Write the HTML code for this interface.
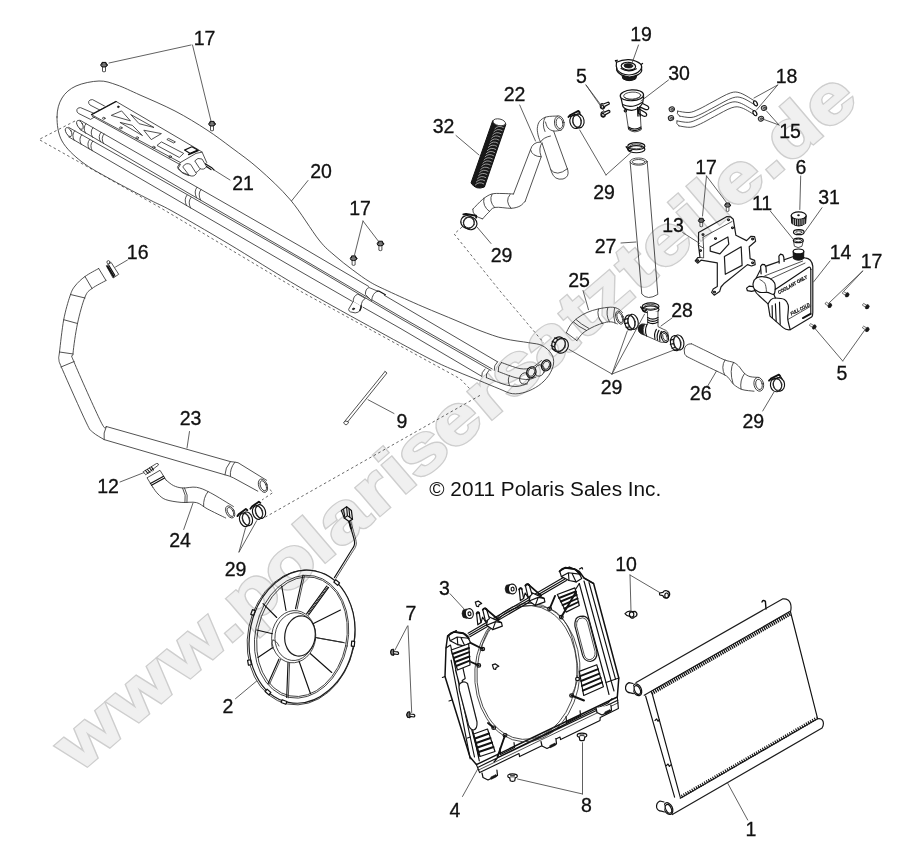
<!DOCTYPE html>
<html><head><meta charset="utf-8"><title>Cooling system</title><style>
html,body{margin:0;padding:0;background:#fff;}
body{width:911px;height:845px;overflow:hidden;font-family:"Liberation Sans",sans-serif;}
svg{display:block}
path,ellipse{fill:none;stroke:#2a2a2a;stroke-width:0.9;stroke-linecap:round;stroke-linejoin:round}
.t{stroke:#333;stroke-width:0.85}
.f{fill:#fff;stroke:#333;stroke-width:0.85}
.f2{fill:#fff;stroke:#1c1c1c;stroke-width:1.2}
.nf{fill:#fff;stroke:none}
.f2n{fill:none;stroke:#111;stroke-width:1.5}
.fd{fill:#777;stroke:#111;stroke-width:1}
.fg{fill:#bdbdbd;stroke:#222;stroke-width:1}
.fk{fill:#fff;stroke:#111;stroke-width:1.2}
.k{stroke:#111;stroke-width:1.15}
.k2{stroke:#111;stroke-width:1.4}
.k3{stroke:#111;stroke-width:1.9}
.blk{fill:#1a1a1a;stroke:#111;stroke-width:0.6}
.fblk{fill:#181818;stroke:#111;stroke-width:1}
.w2{stroke:#ddd;stroke-width:0.8}
.w{stroke:#e0e0e0;stroke-width:0.65}
.d{stroke:#444;stroke-width:0.8;stroke-dasharray:2.6 2.6;stroke-linecap:butt}
.hat{stroke:#111;stroke-width:2.2;stroke-dasharray:0.8 0.9;stroke-linecap:butt}
.fin{stroke:#111;stroke-width:4.2;stroke-dasharray:1.3 0.9;stroke-linecap:butt}
.fin2{stroke:#111;stroke-width:3.2;stroke-dasharray:1.1 1.3;stroke-linecap:butt}
.ld path,.ld{stroke:#444;stroke-width:0.85}
.lb text{font-family:"Liberation Sans",sans-serif;font-size:19.5px;fill:#111;text-anchor:middle;stroke:#111;stroke-width:0.3}
.cp{font-family:"Liberation Sans",sans-serif;font-size:20.5px;fill:#111}
.tt{font-family:"Liberation Sans",sans-serif;font-size:4.8px;stroke:#111;stroke-width:0.25;font-weight:bold;font-style:italic;fill:#111}
.wmg{mix-blend-mode:multiply}
.wm1,.wm2{font-family:"Liberation Sans",sans-serif;font-weight:bold;font-size:68px;vector-effect:non-scaling-stroke}
.wm1{fill:#cecece;stroke:#cecece;stroke-width:4.0;stroke-linejoin:miter}
.wm2{fill:#f0f0f0;stroke:#f0f0f0;stroke-width:1.2;stroke-linejoin:miter}
</style></head><body>
<svg width="911" height="845" viewBox="0 0 911 845">
<rect x="-5" y="-5" width="921" height="855" fill="#fff" stroke="none"/>
<g id="left"><path class="t" d="M57.0 117.0C57.0 109.8 58.8 103.2 62.0 98.0C65.2 92.8 69.8 88.8 76.0 86.0C82.2 83.2 92.2 81.2 99.0 81.0C105.8 80.8 110.2 82.7 117.0 85.0C123.8 87.3 130.3 90.7 140.0 95.0C149.7 99.3 163.8 105.2 175.0 111.0C186.2 116.8 197.5 123.8 207.0 130.0C216.5 136.2 223.3 141.5 232.0 148.0C240.7 154.5 249.2 160.3 259.0 169.0C268.8 177.7 280.5 188.2 290.5 200.0C300.5 211.8 311.6 230.7 319.0 240.0C326.4 249.3 329.4 250.8 335.0 255.8C340.6 260.8 346.8 265.5 352.7 269.9C358.6 274.3 364.3 278.6 370.2 282.1C376.1 285.6 379.0 286.8 387.8 290.9C396.6 295.0 411.5 301.8 422.9 306.7C434.3 311.6 446.3 316.4 456.0 320.5C465.7 324.6 473.0 328.0 481.0 331.0C489.0 334.0 496.0 336.7 504.0 338.6C512.0 340.6 522.5 341.6 528.8 342.7C535.1 343.8 538.2 343.6 542.0 345.5C545.8 347.4 549.6 350.9 551.5 354.0C553.4 357.1 554.0 360.4 553.5 364.0C553.0 367.6 551.1 372.0 548.6 375.6C546.1 379.2 542.6 382.8 538.7 385.5C534.9 388.2 529.9 390.7 525.5 392.1C521.1 393.5 516.7 394.2 512.3 393.7C507.9 393.1 504.7 391.0 499.2 388.8C493.7 386.6 486.6 383.6 479.4 380.6C472.2 377.6 464.2 374.6 456.0 371.0C447.8 367.4 443.0 365.7 430.0 359.0C417.0 352.3 399.7 342.9 378.0 331.0C356.3 319.1 325.0 302.0 300.0 287.4C275.0 272.8 249.3 256.2 228.0 243.5C206.7 230.8 185.0 218.2 172.0 211.0C159.0 203.8 160.0 205.2 150.0 200.0C140.0 194.8 123.3 186.3 112.0 180.0C100.7 173.7 90.3 168.5 82.0 162.0C73.7 155.5 66.2 148.5 62.0 141.0C57.8 133.5 57.0 124.2 57.0 117.0Z" />
<path class="d" d="M75.0 121.0L39.0 139.5L160.0 207.5L300.0 291.0L460.0 378.7L470.0 389.0" />
<path class="d" d="M480.0 395.4L265.5 517.0" />
<path class="d" d="M462.0 227.0L454.2 234.0L499.2 290.0L543.6 342.7" />
<path class="d" d="M266.0 486.0L273.0 492.5L262.0 500.0" />
<path class="t" d="M80.0 120.2L190.0 183.2L300.0 246.1L368.6 286.4" />
<path class="t" d="M384.3 295.3 L497.5 361.8" />
<path class="t" d="M80 129.6 L190 194 L300 257.6 L400 316.4 L492.2 369" />
<path class="t" d="M68.7 127.4 L190 196.2 L300 259.3 L400 318.3 L490.9 370.4" />
<path class="t" d="M68.7 136.9 L190 207.5 L300 271.3 L352 301.2" />
<path class="t" d="M363 307.2 L400 328.2 L481.7 376.3" />
<ellipse class="f" cx="80" cy="124.9" rx="2.6" ry="4.9" transform="rotate(-28 80 124.9)" />
<ellipse class="f" cx="68.7" cy="132.1" rx="2.6" ry="4.9" transform="rotate(-28 68.7 132.1)" />
<path class="t" d="M86 123.638 q-3.5 4 -0.5 9.6" />
<path class="t" d="M74.7 130.838 q-3.5 4 -0.5 9.6" />
<path class="t" d="M93 127.649 q-3.5 4 -0.5 9.6" />
<path class="t" d="M81.7 134.84900000000002 q-3.5 4 -0.5 9.6" />
<path class="t" d="M101 132.233 q-3.5 4 -0.5 9.6" />
<path class="t" d="M89.7 139.433 q-3.5 4 -0.5 9.6" />
<path class="t" d="M104 133.952 q-3.5 4 -0.5 9.6" />
<path class="t" d="M92.7 141.15200000000002 q-3.5 4 -0.5 9.6" />
<path class="t" d="M197 187.24099999999999 q-3.5 4 -0.5 10.5" />
<path class="t" d="M187 195.1859 q-3.5 4 -0.5 10.5" />
<path class="t" d="M201 189.53300000000002 q-3.5 4 -0.5 10.5" />
<path class="t" d="M191 197.4779 q-3.5 4 -0.5 10.5" />
<path class="t" d="M497.5 361.8 Q493.5 365.5 494.2 370.4 M501.4 362.5 Q497.4 366.5 498.2 371.5" />
<path class="t" d="M485 369 Q481 372.5 481.7 376.3 M489 370.3 Q485.2 374 486.3 377.6" />
<path class="t" d="M501.4 362.5C504.5 363.5 514.9 367.8 520.0 368.6C525.1 369.4 528.4 368.9 532.0 367.5C535.6 366.1 539.9 361.7 541.5 360.5" />
<path class="t" d="M498.2 371.5C501.0 372.5 510.0 376.2 515.0 377.5C520.0 378.8 524.5 379.6 528.0 379.5C531.5 379.4 534.7 377.4 536.0 377.0" />
<path class="t" d="M486.3 377.6C489.1 378.7 498.1 382.5 503.0 384.0C507.9 385.5 511.9 386.5 516.0 386.5C520.1 386.5 525.6 384.2 527.5 383.8" />
<path class="t" d="M509.5 375.5 Q507 379.5 509.5 385.5" />
<ellipse class="fk" cx="546.1" cy="365.4" rx="4.6" ry="5.6" transform="rotate(20 546.1 365.4)" />
<ellipse class="f" cx="546.1" cy="365.4" rx="3.2" ry="4.2" transform="rotate(20 546.1 365.4)" />
<ellipse class="t" cx="539.5" cy="370.5" rx="4.8" ry="5.8" transform="rotate(20 539.5 370.5)" />
<ellipse class="fk" cx="531.3" cy="372.3" rx="4.6" ry="5.6" transform="rotate(20 531.3 372.3)" />
<ellipse class="f" cx="531.3" cy="372.3" rx="3.2" ry="4.2" transform="rotate(20 531.3 372.3)" />
<ellipse class="t" cx="524.5" cy="378.5" rx="4.8" ry="5.8" transform="rotate(20 524.5 378.5)" />
<path class="f" d="M365.4 294.1 Q365.2 289 369 287.5 L377.5 291.1 Q372.4 293.2 371.6 300.4 Z" />
<path class="k" d="M377.5 291.1 L378.8 291 L385.4 294.8" />
<path class="f" d="M353.2 301.4 Q353 296 357.8 294.1 L365.4 298.4 Q361.6 300.2 361.1 306 Z" />
<path class="f" d="M353.2 301.4 L348.6 309.3 Q349 311.6 350.5 311.9 L355.2 312.9 Q358.6 312.6 359.8 310.6 L361.1 306" />
<path class="k2" d="M359.8 310.6 Q361.6 308.4 361.1 306" />
<ellipse class="blk" cx="353.5" cy="308.9" rx="1.2" ry="0.8" transform="rotate(-15 353.5 308.9)" />
<path class="f" d="M104.5 106 L92.5 99.6 Q89.5 99.4 88.6 101.6 Q88.4 103.8 90 105 L100.5 110.4" />
<path class="f" d="M95 113.8 L80.5 107.6 Q77.6 107.4 76.8 109.8 Q76.6 112.2 78.4 113.4 L90.5 119.4 L98 115" />
<path class="f" d="M116.2 101.5L197.7 149.3L202.1 152.1L206.7 162.5L197.7 171.5L190.3 175.6L182.0 172.3L177.4 167.1L180.4 162.5L91.5 114.7Z" />
<path class="k" d="M91.5 114.7L116.2 101.5" />
<path class="t" d="M92.3 116.3L179.7 164.4" />
<path class="t" d="M180.4 162.5L196.0 153.4L202.1 152.1" />
<path class="t" d="M111.6 115.2L121.6 110.9L130.2 120.6Z" />
<path class="t" d="M131.0 114.7L154.0 127.5L139.5 123.8Z" />
<path class="t" d="M120.3 122.6L142.5 135.6L132.6 125.6Z" />
<path class="t" d="M144.2 130.3L161.4 133.6L151.6 139.4Z" />
<path class="t" d="M168.9 138.6L175.4 141.9L173.8 143.0L167.2 139.7Z" />
<path class="t" d="M157.3 145.2L161.4 141.9L183.7 153.4L179.6 157.2Z" />
<path class="k" d="M184.5 150.1L191.9 146.8L197.7 150.1L190.3 153.4Z" />
<path class="k2" d="M188.6 154.5L198.2 150.6" />
<ellipse class="t" cx="103.8" cy="118.3" rx="1.3" ry="1.0" />
<ellipse class="t" cx="120.8" cy="127.9" rx="1.3" ry="1.0" />
<ellipse class="t" cx="137.2" cy="137.8" rx="1.3" ry="1.0" />
<ellipse class="t" cx="153.7" cy="147.3" rx="1.3" ry="1.0" />
<ellipse class="t" cx="170.2" cy="156.7" rx="1.3" ry="1.0" />
<ellipse class="blk" cx="118.3" cy="106.8" rx="0.9" ry="0.9" />
<path class="t" d="M180.4 164.4L177.9 168.7L182.9 173.2L188.6 175.6" />
<path class="f" d="M183 166.6 Q185.6 162 190.6 164.4 L196.4 173.6 Q193.6 177.6 189.4 175.4 Z" />
<path class="f" d="M195 160.6 Q197.6 157 202 159 L206.6 166.6 Q204 170.6 200 168.6 Z" />
<path class="k" d="M205.6 164 L211.4 167.4 L214 170 M206.4 166.6 L211 169.6" />
<path class="ld" d="M214 170 L230 180" />
<g transform="translate(104 65) rotate(0) scale(1.0)"><path d="M-1.5 1.2 L-1.5 6.4 Q0 7.4 1.5 6.4 L1.5 1.2" class="f"/><ellipse cx="0" cy="0" rx="3.3" ry="2.1" class="fd"/><path d="M-2 -0.8 L-2 -2.6 L2 -2.6 L2 -0.8" class="fd"/></g>
<g transform="translate(212 124) rotate(0) scale(1.0)"><path d="M-1.5 1.2 L-1.5 6.4 Q0 7.4 1.5 6.4 L1.5 1.2" class="f"/><ellipse cx="0" cy="0" rx="3.3" ry="2.1" class="fd"/><path d="M-2 -0.8 L-2 -2.6 L2 -2.6 L2 -0.8" class="fd"/></g>
<g transform="translate(353.6 258.5) rotate(0) scale(1.0)"><path d="M-1.5 1.2 L-1.5 6.4 Q0 7.4 1.5 6.4 L1.5 1.2" class="f"/><ellipse cx="0" cy="0" rx="3.3" ry="2.1" class="fd"/><path d="M-2 -0.8 L-2 -2.6 L2 -2.6 L2 -0.8" class="fd"/></g>
<g transform="translate(380.4 243.8) rotate(0) scale(1.0)"><path d="M-1.5 1.2 L-1.5 6.4 Q0 7.4 1.5 6.4 L1.5 1.2" class="f"/><ellipse cx="0" cy="0" rx="3.3" ry="2.1" class="fd"/><path d="M-2 -0.8 L-2 -2.6 L2 -2.6 L2 -0.8" class="fd"/></g>
<path class="t" d="M98.7 268.5C96.4 269.8 89.0 273.6 85.0 276.5C81.0 279.4 77.5 282.8 75.0 286.0C72.5 289.2 71.9 290.4 70.0 296.0C68.1 301.6 65.5 310.4 63.7 319.7C62.0 329.0 60.3 345.4 59.5 352.0C58.7 358.6 58.4 356.6 58.9 359.5C59.4 362.4 58.0 359.3 62.5 369.7C67.0 380.1 81.0 411.6 86.0 422.0C91.0 432.4 89.5 429.1 92.5 432.0C95.5 434.9 102.2 438.3 104.1 439.6L224.9 474.8 Q229 475.6 233.7 478 L257.8 491.2" />
<path class="t" d="M106.0 280.5C103.7 281.8 95.5 285.8 92.0 288.5C88.5 291.2 87.4 291.2 85.0 297.0C82.6 302.8 79.5 314.1 77.5 323.5C75.5 332.9 73.6 347.1 73.0 353.5C72.4 359.9 69.3 350.6 74.0 362.0C78.7 373.4 95.6 411.2 101.0 422.0C106.4 432.8 105.4 425.8 106.3 426.5L230.4 461.6 Q234.5 462 238 462.7 L266.6 480.3" />
<path class="t" d="M98.7 268.5 L106 280.5" />
<path class="t" d="M85 276.5 L92 288.5" />
<path class="t" d="M70.5 294.5 L85 298" />
<path class="t" d="M63.7 319.7 L77.5 323.5" />
<path class="t" d="M59.5 352 L73.2 354" />
<path class="t" d="M61 367 L74.2 361.5" />
<path class="t" d="M106.3 426.5 Q103 433 104.1 439.6" />
<path class="t" d="M230.4 461.6 Q225 468 224.9 474.8" />
<path class="t" d="M234.8 462.2 Q229.6 469 230.4 476" />
<ellipse class="f" cx="263" cy="485.7" rx="4.2" ry="7.0" transform="rotate(-22 263 485.7)" />
<ellipse class="t" cx="263.3" cy="485.8" rx="2.8" ry="5.3" transform="rotate(-22 263.3 485.8)" />
<path class="f" d="M106.6 265.5 L111.2 262.5 L118.7 274.3 L113.4 277.8 Z" />
<path class="k3" d="M107.6 266.4 L113.6 276.4" />
<path class="k" d="M108.8 265.4 L114.8 275.4" />
<ellipse class="t" cx="108.4" cy="262.2" rx="1.5" ry="1.6" />
<path class="f" d="M143.5 471.5 L156.5 463.5 Q158.5 463 158.5 465 L146 474.5 Z" />
<path class="k" d="M145.5 470.5 L148 473.5 M147.5 469.5 L150 472.5 M149.5 468 L152 471 M151.5 467 L153.5 470" />
<path class="t" d="M153.0 487.5C153.8 488.6 155.9 492.0 158.0 494.0C160.1 496.0 161.8 498.2 165.7 499.6C169.5 501.0 176.0 501.9 181.1 502.4C186.2 502.9 192.2 501.5 196.5 502.6C200.8 503.7 202.3 506.2 207.2 508.8C212.1 511.4 222.6 516.5 225.7 518.0" />
<path class="t" d="M166.0 480.0C167.2 480.9 170.7 484.3 173.5 485.6C176.3 486.9 178.8 487.7 182.6 488.0C186.4 488.3 191.9 486.5 196.5 487.3C201.1 488.1 204.2 489.5 210.3 492.7C216.5 495.9 229.6 504.2 233.4 506.5" />
<path class="f" d="M153.0 487.5L147.0 477.8L160.0 470.3L166.0 480.0" />
<path class="k" d="M151.5 485.3 L164.6 478 M150.4 483.6 L163.6 476.3" />
<path class="t" d="M182.6 488 Q186.6 495 185 502.6" />
<path class="t" d="M184.6 488 Q188.6 495 187 502.6" />
<path class="t" d="M208 491.6 Q203 498 203.6 506.6" />
<ellipse class="f" cx="230.2" cy="511.9" rx="4.0" ry="6.5" transform="rotate(-28 230.2 511.9)" />
<ellipse class="t" cx="230.5" cy="512" rx="2.6" ry="4.9" transform="rotate(-28 230.5 512)" />
<g transform="rotate(-18 244.5 519.8)"><ellipse cx="244.5" cy="519.8" rx="4.8" ry="7" class="k"/><ellipse cx="247.7" cy="519.8" rx="4.8" ry="7" class="k"/><ellipse cx="246.1" cy="519.8" rx="3.5999999999999996" ry="5.8" class="t"/><path d="M241.14 512.5 l8.0 -2.6 l1 1.6 M241.14 512.5 l-2.2 1.6" class="k3"/></g>
<g transform="rotate(-18 257.5 512.5)"><ellipse cx="257.5" cy="512.5" rx="4.8" ry="7" class="k"/><ellipse cx="260.7" cy="512.5" rx="4.8" ry="7" class="k"/><ellipse cx="259.1" cy="512.5" rx="3.5999999999999996" ry="5.8" class="t"/><path d="M254.14 505.2 l8.0 -2.6 l1 1.6 M254.14 505.2 l-2.2 1.6" class="k3"/></g>
<path class="t" d="M385 371.5 L387 373 L348 421.5 L345 421 L343.5 423 L346 425 L348.5 423 L348 421.5 M385 371.5 L345 421" /></g>
<g id="right"><path class="fblk" d="M492.6 121 L471 183 Q476 190.5 484.4 187 L505.8 124.5 Z" />
<ellipse class="f" cx="499.3" cy="122.3" rx="6.4" ry="3.3" transform="rotate(12 499.3 122.3)" />
<path class="w" d="M494.9 128.7 q3.6 -4 8.4 -1.2" />
<path class="w" d="M493.8 131.8 q3.6 -4 8.4 -1.2" />
<path class="w" d="M492.7 134.9 q3.6 -4 8.4 -1.2" />
<path class="w" d="M491.6 138.1 q3.6 -4 8.4 -1.2" />
<path class="w" d="M490.5 141.2 q3.6 -4 8.4 -1.2" />
<path class="w" d="M489.4 144.3 q3.6 -4 8.4 -1.2" />
<path class="w" d="M488.3 147.4 q3.6 -4 8.4 -1.2" />
<path class="w" d="M487.3 150.6 q3.6 -4 8.4 -1.2" />
<path class="w" d="M486.2 153.7 q3.6 -4 8.4 -1.2" />
<path class="w" d="M485.1 156.8 q3.6 -4 8.4 -1.2" />
<path class="w" d="M484.0 160.0 q3.6 -4 8.4 -1.2" />
<path class="w" d="M482.9 163.1 q3.6 -4 8.4 -1.2" />
<path class="w" d="M481.8 166.2 q3.6 -4 8.4 -1.2" />
<path class="w" d="M480.7 169.4 q3.6 -4 8.4 -1.2" />
<path class="w" d="M479.6 172.5 q3.6 -4 8.4 -1.2" />
<path class="w" d="M478.5 175.6 q3.6 -4 8.4 -1.2" />
<path class="w" d="M477.4 178.8 q3.6 -4 8.4 -1.2" />
<path class="w" d="M476.3 181.9 q3.6 -4 8.4 -1.2" />
<path class="w" d="M475.3 185.0 q3.6 -4 8.4 -1.2" />
<path class="t" d="M558.0 116.0C556.1 116.2 549.6 116.0 546.5 116.9C543.4 117.8 541.1 119.4 539.6 121.3C538.1 123.2 537.5 126.0 537.3 128.4C537.1 130.8 537.8 133.7 538.3 136.0C538.8 138.3 540.1 141.0 540.5 142.0" />
<path class="t" d="M553.6 131 L567.8 170.1 Q569.5 177 563 179 Q554.5 180.5 551.5 172 L542 143" />
<path class="t" d="M550.6 169.5 Q556.5 177.5 567.6 168.6" />
<path class="t" d="M561.0 130.2C559.8 130.3 555.8 131.4 553.6 131.0C551.4 130.6 549.4 129.5 548.0 128.0C546.6 126.5 545.9 123.0 545.5 122.0" />
<path class="t" d="M545.2 117.2 Q541.5 124 545 131.5" />
<path class="t" d="M540.5 142 Q543 137.5 550.5 136" />
<ellipse class="f" cx="559.3" cy="123.1" rx="4.8" ry="7.2" transform="rotate(-8 559.3 123.1)" />
<ellipse class="t" cx="559.5" cy="123.1" rx="3.3" ry="5.5" transform="rotate(-8 559.5 123.1)" />
<path class="t" d="M540.5 142 Q532.5 142 530.5 149.7 L513.5 194" />
<path class="t" d="M542 143 Q538 148 541.2 156.8 L525.2 201.2" />
<path class="t" d="M530.5 149.7 Q532 156.5 541.2 156.8" />
<path class="t" d="M513.5 194.0C511.6 193.9 505.7 193.5 502.0 193.5C498.3 193.5 494.7 193.1 491.5 194.1C488.3 195.1 485.7 196.9 482.6 199.4C479.5 201.9 474.4 207.6 472.8 209.2" />
<path class="t" d="M525.2 201.2C524.3 202.0 522.4 204.8 520.0 206.0C517.6 207.2 515.2 208.1 511.0 208.3C506.8 208.5 498.8 206.7 495.0 207.4C491.2 208.1 490.6 210.6 488.5 212.5C486.4 214.4 483.6 217.8 482.6 218.9" />
<path class="t" d="M472.8 209.2 Q472 216 482.6 218.9" />
<path class="t" d="M510 194.5 Q504.5 201 511 208.3" />
<path class="t" d="M492 194.2 Q488.5 201 494.5 207.4" />
<path class="t" d="M484 198 Q482 206 489.5 211.5" />
<g transform="rotate(-10 575.5 121.5)"><ellipse cx="575.5" cy="121.5" rx="5.6" ry="7" class="k"/><ellipse cx="578.5" cy="121.5" rx="5.6" ry="7" class="k"/><ellipse cx="577.0" cy="121.5" rx="4.3999999999999995" ry="5.8" class="t"/><path d="M571.58 114.2 l8.6 -2.6 l1 1.6 M571.58 114.2 l-2.2 1.6" class="k3"/></g>
<path class="k" d="M570 116.5 L580 113.5 L581 115.5" />
<g transform="rotate(25 467.5 222)"><ellipse cx="467.5" cy="222" rx="6.8" ry="6.4" class="k"/><ellipse cx="470.5" cy="222" rx="6.8" ry="6.4" class="k"/><ellipse cx="469.0" cy="222" rx="5.6" ry="5.2" class="t"/><path d="M462.74 215.29999999999998 l9.8 -2.6 l1 1.6 M462.74 215.29999999999998 l-2.2 1.6" class="k3"/></g>
<g transform="rotate(25 558.5 344.3)"><ellipse cx="558.5" cy="344.3" rx="6.6" ry="7.6" class="k"/><ellipse cx="561.9" cy="344.3" rx="6.6" ry="7.6" class="k"/><ellipse cx="560.2" cy="344.3" rx="5.3999999999999995" ry="6.3999999999999995" class="t"/><path d="M552.3 340.12 l3.4 0 M551.6 344.3 l3.4 0 M552.3 348.48 l3.4 0 M554.54 350.988 l3.4 0" class="k"/></g>
<g transform="rotate(-12 629.8 322.5)"><ellipse cx="629.8" cy="322.5" rx="5" ry="7.6" class="k"/><ellipse cx="633.1999999999999" cy="322.5" rx="5" ry="7.6" class="k"/><ellipse cx="631.5" cy="322.5" rx="3.8" ry="6.3999999999999995" class="t"/><path d="M625.1999999999999 318.32 l3.4 0 M624.5 322.5 l3.4 0 M625.1999999999999 326.68 l3.4 0 M626.8 329.188 l3.4 0" class="k"/></g>
<g transform="rotate(-12 675.5 343.2)"><ellipse cx="675.5" cy="343.2" rx="5" ry="7.6" class="k"/><ellipse cx="678.9" cy="343.2" rx="5" ry="7.6" class="k"/><ellipse cx="677.2" cy="343.2" rx="3.8" ry="6.3999999999999995" class="t"/><path d="M670.9 339.02 l3.4 0 M670.2 343.2 l3.4 0 M670.9 347.38 l3.4 0 M672.5 349.888 l3.4 0" class="k"/></g>
<g transform="rotate(-10 776 385)"><ellipse cx="776" cy="385" rx="5.6" ry="6.8" class="k"/><ellipse cx="779" cy="385" rx="5.6" ry="6.8" class="k"/><ellipse cx="777.5" cy="385" rx="4.3999999999999995" ry="5.6" class="t"/><path d="M772.08 377.9 l8.6 -2.6 l1 1.6 M772.08 377.9 l-2.2 1.6" class="k3"/></g>
<path class="k" d="M771 380 L781 377 L782 379" />
<ellipse class="k" cx="636.3" cy="146.2" rx="8.6" ry="3.6" />
<ellipse class="k" cx="636.3" cy="149.2" rx="8.6" ry="3.6" />
<ellipse class="t" cx="636.3" cy="146.39999999999998" rx="6.6" ry="2.4000000000000004" />
<path class="k2" d="M626.1999999999999 146.7 l3.5 4.5 l2 -1" />
<ellipse class="k" cx="650.6" cy="306.5" rx="8.4" ry="3.6" />
<ellipse class="k" cx="650.6" cy="309.5" rx="8.4" ry="3.6" />
<ellipse class="t" cx="650.6" cy="306.7" rx="6.4" ry="2.4000000000000004" />
<path class="k2" d="M640.7 307.0 l3.5 4.5 l2 -1" />
<path class="fk" d="M600.4 105.60000000000001 q0.6 -2.6 3 -1.6 l4.6 -1.8 q1.6 0.2 1.2 1.8 l-4.4 2.4 q-0.2 2.8 -2.8 2.4 q-2 -0.8 -1.6 -3.2z" />
<ellipse class="k" cx="602.4" cy="106.8" rx="1.3" ry="1.6" transform="rotate(-20 602.4 106.8)" />
<path class="fk" d="M601.0 113.80000000000001 q0.6 -2.6 3 -1.6 l4.6 -1.8 q1.6 0.2 1.2 1.8 l-4.4 2.4 q-0.2 2.8 -2.8 2.4 q-2 -0.8 -1.6 -3.2z" />
<ellipse class="k" cx="603.0" cy="115.0" rx="1.3" ry="1.6" transform="rotate(-20 603.0 115.0)" />
<path class="fblk" d="M621.8 74.6 L622.9 78.8 Q629 82.4 635.6 79 L637.3 74.5" />
<path class="fk" d="M616.5 66 L616.8 70.6 Q619 75.8 629.6 77 Q640.4 75.4 641.7 70.8 L641.5 66" />
<path class="fk" d="M616.5 62.2 Q622 59.4 628.8 59.6 Q637 60.4 641 64.4 Q642.6 67.6 640 70.4 Q636.5 74.6 629 75 Q620.5 74.4 617.4 70 Q615.6 65.5 616.5 62.2 Z" />
<path class="k" d="M616.5 62.2 l-1.2 -1.6 l2.2 -0.4 M641 64.4 l1.6 -1 " />
<ellipse class="fk" cx="628.4" cy="66.2" rx="7.2" ry="3.9" transform="rotate(4 628.4 66.2)" />
<ellipse class="blk" cx="628.4" cy="65.8" rx="4.4" ry="2.2" transform="rotate(4 628.4 65.8)" />
<path class="k" d="M621 68.6 Q628.6 73.2 636.4 68.8" />
<path class="f" d="M625.6 109.5 L628.6 129.6 Q634.6 134 641.2 129.8 L640 110" />
<path class="k" d="M628.4 127 Q634.6 131 641 127 M628.6 128.6 Q634.6 132.6 641.1 128.6" />
<path class="fk" d="M639.2 101.8 L647.6 106 Q649.6 107.6 648.2 109.2 Q646.6 110 645.2 109.4 L638.6 106.4 Z" />
<path class="fk" d="M638.8 108.8 L645.6 112.8 Q647.4 114.4 646.2 116 Q644.6 116.8 643.2 116 L638.4 113.2 Z" />
<path class="fk" d="M620.8 96.9 L622.9 106.4 Q625 110 631.5 110.4 Q638.5 110 642.6 103.2 L643.7 96.9" />
<path class="k" d="M622.6 104.6 Q631.5 109 642 102.4" />
<path class="k2" d="M637.6 107.5 L638 116 M639.8 107 L640.2 116" />
<ellipse class="fk" cx="631.9" cy="95.3" rx="11.7" ry="5.4" transform="rotate(-3 631.9 95.3)" />
<ellipse class="f" cx="632.2" cy="95.6" rx="8.6" ry="3.5" transform="rotate(-3 632.2 95.6)" />
<path class="t" d="M624.5 97.5 Q631.5 102.6 640.2 97" />
<ellipse class="k" cx="625.4" cy="110.8" rx="1.2" ry="1.2" />
<path class="f" d="M630.1 161.6 L641.8 294 Q647.5 300.8 657.8 294.4 L647.2 161.6" />
<ellipse class="f" cx="638.6" cy="161.6" rx="8.5" ry="3.6" />
<ellipse class="t" cx="638.6" cy="161.8" rx="6.4" ry="2.3" />
<path class="t" d="M677.5 111.1C679.4 111.3 685.4 112.8 689.0 112.5C692.6 112.2 695.0 110.9 699.0 109.1C703.0 107.3 707.8 104.4 713.0 101.7C718.2 99.0 725.9 94.3 730.5 92.9C735.1 91.5 736.5 91.8 740.5 93.1C744.5 94.4 752.2 99.6 754.5 100.9" />
<path class="t" d="M679.5 116.1C681.4 116.3 687.4 117.8 691.0 117.5C694.6 117.2 697.0 115.9 701.0 114.1C705.0 112.3 709.8 109.4 715.0 106.7C720.2 104.0 727.9 99.3 732.5 97.9C737.1 96.5 738.5 96.8 742.5 98.1C746.5 99.4 754.2 104.6 756.5 105.9" />
<ellipse class="fk" cx="755.5" cy="103.4" rx="1.6" ry="2.7" transform="rotate(-30 755.5 103.4)" />
<path class="t" d="M677.5 111.1 Q676.0 113.6 679.5 116.1" />
<path class="t" d="M676.9 120.9C678.8 121.1 684.8 122.6 688.4 122.3C692.0 122.0 694.4 120.7 698.4 118.9C702.4 117.1 707.1 114.2 712.4 111.5C717.6 108.8 725.3 104.1 729.9 102.7C734.5 101.3 735.9 101.6 739.9 102.9C743.9 104.2 751.6 109.4 753.9 110.7" />
<path class="t" d="M678.9 125.9C680.8 126.1 686.8 127.6 690.4 127.3C694.0 127.0 696.4 125.7 700.4 123.9C704.4 122.1 709.1 119.2 714.4 116.5C719.6 113.8 727.3 109.1 731.9 107.7C736.5 106.3 737.9 106.6 741.9 107.9C745.9 109.2 753.6 114.4 755.9 115.7" />
<ellipse class="fk" cx="754.9" cy="113.2" rx="1.6" ry="2.7" transform="rotate(-30 754.9 113.2)" />
<path class="t" d="M676.9 120.89999999999999 Q675.4 123.39999999999999 678.9 125.89999999999999" />
<ellipse class="fg" cx="671.8" cy="109.2" rx="2.7" ry="2.4" transform="rotate(-20 671.8 109.2)" />
<ellipse class="t" cx="672.1999999999999" cy="109.4" rx="1.1" ry="0.9" transform="rotate(-20 672.1999999999999 109.4)" />
<ellipse class="fg" cx="671" cy="118.1" rx="2.7" ry="2.4" transform="rotate(-20 671 118.1)" />
<ellipse class="t" cx="671.4" cy="118.3" rx="1.1" ry="0.9" transform="rotate(-20 671.4 118.3)" />
<ellipse class="fg" cx="764" cy="108" rx="2.7" ry="2.4" transform="rotate(-20 764 108)" />
<ellipse class="t" cx="764.4" cy="108.2" rx="1.1" ry="0.9" transform="rotate(-20 764.4 108.2)" />
<ellipse class="fg" cx="761" cy="118.7" rx="2.7" ry="2.4" transform="rotate(-20 761 118.7)" />
<ellipse class="t" cx="761.4" cy="118.9" rx="1.1" ry="0.9" transform="rotate(-20 761.4 118.9)" />
<path class="f2" d="M698.6 232.6L727.0 216.6L730.5 216.8L733.3 219.3L735.9 235.3L746.6 240.6L751.0 236.3L754.6 236.6L755.6 241.2L749.2 246.8L750.1 258.6L754.6 260.4L755.2 264.6L751.5 266.0L747.5 264.6L724.4 283.2L721.0 287.0L719.6 291.6L714.2 295.2L711.6 292.4L713.2 289.0L717.3 286.6L717.3 262.8L701.0 260.2L697.6 263.2L695.2 260.8L697.8 257.6L700.0 257.4L698.4 245.0Z" />
<path class="t" d="M703.0 237.2L732.0 221.5" />
<path class="t" d="M698.4 245.0L703.6 248.2L703.6 258.0L700.0 257.4" />
<path class="t" d="M703.0 237.2L703.6 248.2" />
<path class="f2" d="M710.2 246.8L727.9 237.0L728.8 244.1L719.9 253.9L710.2 251.2Z" />
<path class="f2" d="M724.4 256.6L741.2 246.8L742.1 265.4L725.3 274.3Z" />
<ellipse class="k" cx="703" cy="234.5" rx="1.0" ry="0.8" />
<ellipse class="k" cx="728.5" cy="219.8" rx="1.0" ry="0.8" />
<ellipse class="k" cx="752.6" cy="239" rx="1.0" ry="0.8" />
<ellipse class="k" cx="752.6" cy="262.8" rx="1.0" ry="0.8" />
<ellipse class="k" cx="714.5" cy="292" rx="1.0" ry="0.8" />
<ellipse class="k" cx="697.6" cy="260.6" rx="1.0" ry="0.8" />
<ellipse class="k" cx="715.5" cy="238.5" rx="1.0" ry="0.8" />
<ellipse class="k" cx="732.5" cy="227.8" rx="1.0" ry="0.8" />
<ellipse class="k" cx="700.5" cy="250.5" rx="1.0" ry="0.8" />
<g transform="translate(701.3 220.6) rotate(0) scale(0.9)"><path d="M-1.5 1.2 L-1.5 6.4 Q0 7.4 1.5 6.4 L1.5 1.2" class="f"/><ellipse cx="0" cy="0" rx="3.3" ry="2.1" class="fd"/><path d="M-2 -0.8 L-2 -2.6 L2 -2.6 L2 -0.8" class="fd"/></g>
<g transform="translate(727.6 205.3) rotate(0) scale(0.9)"><path d="M-1.5 1.2 L-1.5 6.4 Q0 7.4 1.5 6.4 L1.5 1.2" class="f"/><ellipse cx="0" cy="0" rx="3.3" ry="2.1" class="fd"/><path d="M-2 -0.8 L-2 -2.6 L2 -2.6 L2 -0.8" class="fd"/></g>
<path class="fblk" d="M791.2 216 L791.8 223.4 Q798.6 228.6 805.6 223.4 L806.2 216" />
<ellipse class="fk" cx="798.7" cy="215.6" rx="7.5" ry="3.7" />
<path class="w2" d="M793.3 219.2 l0.1 5.2" />
<path class="w2" d="M795.4 219.5 l0.1 5.2" />
<path class="w2" d="M797.6 219.8 l0.1 5.2" />
<path class="w2" d="M799.8 219.8 l0.1 5.2" />
<path class="w2" d="M802.0 219.5 l0.1 5.2" />
<path class="w2" d="M804.1 219.2 l0.1 5.2" />
<ellipse class="k" cx="798.5" cy="215.2" rx="0.7" ry="0.4" />
<ellipse class="fk" cx="798.8" cy="232.2" rx="5.3" ry="2.5" />
<ellipse class="f" cx="798.8" cy="232.2" rx="3.1" ry="1.3" />
<path class="f" d="M793.4 240.6 L794.4 246.2 Q798.2 249 802 246.2 L803.2 240.6" />
<ellipse class="fk" cx="798.3" cy="240.4" rx="4.9" ry="2.2" />
<ellipse class="t" cx="798.3" cy="240.5" rx="3.4" ry="1.3" />
<path class="fk" d="M755.1 286.9L749.1 286.1L746.6 288.1L747.4 290.7L751.5 291.4L756.1 290.4" />
<path class="f2" d="M761.4 267.7L793.5 256.5L805.0 257.8Q811.8 258.4 812.8 266.3L812.8 312.5Q812.8 316.1 811.6 317.1L790.2 329.7Q786.1 330.2 783.1 327.6L770.0 316.1L768.0 303.9L759.4 296.0Q755.6 293.0 754.5 289.4Q752.5 286.1 753.2 283.1Q753.8 279.5 756.1 278.2Z" />
<path class="k" d="M756.1 278.2C757.0 277.9 759.1 276.6 761.4 276.6C763.6 276.6 767.4 277.1 769.6 278.2C771.8 279.3 773.7 281.2 774.6 283.1C775.5 285.0 775.1 288.3 775.2 289.4L807.8 267.7Q810.5 266.0 810.8 269.3" />
<path class="t" d="M764.7 275.9L802.6 261.1" />
<path class="t" d="M770.5 278.9L805.0 263.1" />
<path class="k" d="M754.5 289.4C755.4 289.9 757.7 291.9 759.8 292.4C761.9 292.9 764.9 292.1 767.2 292.4C769.5 292.7 772.5 294.8 773.8 294.3C775.1 293.8 775.0 290.2 775.2 289.4" />
<path class="t" d="M759.8 279.5C760.6 280.1 763.6 281.5 764.7 283.1C765.8 284.8 766.0 287.8 766.3 289.4C766.6 290.9 766.3 291.9 766.3 292.4" />
<path class="k" d="M768.0 303.9C768.5 303.2 769.8 300.6 771.0 299.6C772.2 298.6 773.1 298.0 775.4 298.0C777.6 298.0 782.4 298.4 784.5 299.6C786.6 300.8 787.6 302.9 788.2 305.0C788.8 307.1 788.2 310.1 788.1 312.5C788.0 314.9 787.4 316.5 787.8 319.4C788.1 322.3 789.8 328.0 790.2 329.7" />
<path class="k" d="M773.8 294.3L775.4 298.0" />
<path class="k" d="M772.1 305.5L772.4 317.7 M775.4 303.9L776.2 321.3 M779.5 302.2L780.2 324.3" />
<path class="k" d="M810.8 269.3L810.8 314.4" />
<path class="t" d="M788.1 319.4L810.8 306.2" />
<path class="fk" d="M761.1 273.8L760.6 266.3L762.2 264.4L764.7 264.7L766.0 267.2L766.3 272.1" />
<path class="fk" d="M779.2 263.1L778.9 256.1L780.5 254.2L782.8 254.8L783.8 257.3L784.1 261.4" />
<path class="fblk" d="M793.2 251.6 L793.4 258.6 Q798.4 261.8 803.6 258.6 L803.8 251.6" />
<ellipse class="fk" cx="798.5" cy="251.4" rx="5.3" ry="2.4" />
<text class="tt" transform="translate(778.9,294.3) rotate(-29.5)" textLength="33" lengthAdjust="spacingAndGlyphs">COOLANT ONLY</text>
<text class="tt" transform="translate(791.4,315.4) rotate(-27)" textLength="21" lengthAdjust="spacingAndGlyphs">FULL COLD</text>
<path class="k3" d="M802.9 318.1L810.5 313.8" />
<g transform="translate(847 294.8) rotate(120) scale(0.72)"><path d="M-1.5 1.2 L-1.5 6.4 Q0 7.4 1.5 6.4 L1.5 1.2" class="f"/><ellipse cx="0" cy="0" rx="3.3" ry="2.1" class="blk"/><path d="M-2 -0.8 L-2 -2.6 L2 -2.6 L2 -0.8" class="blk"/></g>
<g transform="translate(829.7 305.4) rotate(120) scale(0.72)"><path d="M-1.5 1.2 L-1.5 6.4 Q0 7.4 1.5 6.4 L1.5 1.2" class="f"/><ellipse cx="0" cy="0" rx="3.3" ry="2.1" class="blk"/><path d="M-2 -0.8 L-2 -2.6 L2 -2.6 L2 -0.8" class="blk"/></g>
<g transform="translate(867.1 306.7) rotate(120) scale(0.72)"><path d="M-1.5 1.2 L-1.5 6.4 Q0 7.4 1.5 6.4 L1.5 1.2" class="f"/><ellipse cx="0" cy="0" rx="3.3" ry="2.1" class="blk"/><path d="M-2 -0.8 L-2 -2.6 L2 -2.6 L2 -0.8" class="blk"/></g>
<g transform="translate(814.1 326.9) rotate(120) scale(0.72)"><path d="M-1.5 1.2 L-1.5 6.4 Q0 7.4 1.5 6.4 L1.5 1.2" class="f"/><ellipse cx="0" cy="0" rx="3.3" ry="2.1" class="blk"/><path d="M-2 -0.8 L-2 -2.6 L2 -2.6 L2 -0.8" class="blk"/></g>
<g transform="translate(867.1 329.4) rotate(120) scale(0.72)"><path d="M-1.5 1.2 L-1.5 6.4 Q0 7.4 1.5 6.4 L1.5 1.2" class="f"/><ellipse cx="0" cy="0" rx="3.3" ry="2.1" class="blk"/><path d="M-2 -0.8 L-2 -2.6 L2 -2.6 L2 -0.8" class="blk"/></g>
<path class="t" d="M566.3 332.7C567.0 331.4 568.6 327.5 570.5 325.0C572.4 322.5 575.0 319.9 577.8 317.8C580.5 315.7 583.6 314.0 587.0 312.5C590.4 311.0 594.1 309.9 598.0 309.0C601.9 308.1 607.0 307.3 610.2 307.2C613.5 307.1 615.5 307.6 617.5 308.5C619.5 309.4 621.7 311.8 622.5 312.5" />
<path class="t" d="M576.9 340.6C577.7 339.6 579.8 336.3 581.5 334.5C583.2 332.7 584.8 331.6 587.4 330.0C590.0 328.4 593.8 326.5 597.0 325.2C600.2 323.9 604.2 322.6 606.7 322.1C609.2 321.6 610.2 321.7 612.0 322.0C613.8 322.3 616.4 323.6 617.3 323.9" />
<path class="t" d="M566.3 332.7 L576.9 340.6" />
<path class="t" d="M573.5 322 Q578 326.5 586.5 330.5 M576 319.5 Q580.5 324 589 328.5" />
<path class="t" d="M598.5 309 Q596 316 602.5 323.6 M607.8 307.5 Q605.5 315 609.5 322 M614.5 308 Q612.5 315.5 615 323" />
<ellipse class="f" cx="619.6" cy="317.6" rx="3.6" ry="6.8" transform="rotate(-18 619.6 317.6)" />
<ellipse class="t" cx="619.8" cy="317.7" rx="2.4" ry="5.2" transform="rotate(-18 619.8 317.7)" />
<path class="f" d="M647.5 311.5 L647.7 324.4 L641.6 324.2 Q638.4 325.2 638.2 329 Q638.6 332.6 641 333.6 L660.8 342.2 Q664.6 343.4 667.4 340.4 Q669.6 336 667.6 332 Q666 330 663.6 329.4 L658 326.6 L658 311.5" />
<path class="k" d="M647.6 317.6 Q652.6 320.8 658 317.6 M647.6 319.8 Q652.6 323 658 319.8 M647.6 322 Q652.6 325.2 658 322" />
<ellipse class="fk" cx="664.8" cy="337" rx="3.3" ry="5.5" transform="rotate(-20 664.8 337)" />
<ellipse class="t" cx="665" cy="337" rx="2" ry="4" transform="rotate(-20 665 337)" />
<path class="k" d="M655 338.8 Q653.6 334 656.4 329.4 M657.6 340 Q656.2 335 659 330.4 M660 341 Q658.8 336 661.4 331.4" />
<path class="blk" d="M641.6 324.2 Q638.4 325.2 638.2 329 Q638.6 332.6 641 333.6 L644.4 335 Q641.8 330 644.6 324.4 Z" />
<path class="k" d="M646.6 336 Q644.2 330.6 647 324.6" />
<path class="t" d="M691.5 343.8C694.2 345.1 702.6 349.2 708.0 351.8C713.4 354.4 719.7 357.9 724.0 359.7C728.3 361.5 731.4 361.4 734.0 362.6C736.6 363.8 737.8 365.3 739.5 367.0C741.2 368.7 742.2 371.4 744.0 373.0C745.8 374.6 747.5 375.9 750.0 376.6C752.5 377.3 757.5 377.3 759.0 377.4" />
<path class="t" d="M686.6 356.4C689.2 357.7 697.0 361.6 702.0 364.0C707.0 366.4 712.4 369.0 716.5 371.0C720.6 373.0 724.2 374.4 726.5 376.0C728.8 377.6 729.2 379.1 730.5 380.5C731.8 381.9 732.1 383.2 734.0 384.7C735.9 386.2 738.7 388.4 742.0 389.5C745.3 390.6 752.0 390.9 754.0 391.2" />
<path class="t" d="M691.5 343.8 Q685 343.5 684.2 350 Q683.8 355 686.6 356.4" />
<path class="t" d="M725 360 Q720.5 367 724.8 375.2 M733.5 362.4 Q729 370 733 383.5 M744.5 373.6 Q739.5 380.5 741 389" />
<ellipse class="f" cx="758.8" cy="384.3" rx="4.8" ry="7" transform="rotate(-12 758.8 384.3)" />
<ellipse class="t" cx="759" cy="384.4" rx="3.2" ry="5.2" transform="rotate(-12 759 384.4)" /></g>
<g id="bottom"><ellipse class="f" cx="301.2" cy="637.4000000000001" rx="53.4" ry="68" transform="rotate(11.6 301.2 637.4000000000001)" />
<ellipse class="f2" cx="302" cy="636.7" rx="52.2" ry="67" transform="rotate(11.6 302 636.7)" />
<ellipse class="f" cx="301.6" cy="636.7" rx="46.5" ry="62" transform="rotate(11.6 301.6 636.7)" />
<ellipse class="t" cx="302.0" cy="636.7" rx="44.6" ry="60.4" transform="rotate(11.6 302.0 636.7)" />
<ellipse class="f" cx="293.7" cy="636.7" rx="22" ry="26.2" transform="rotate(8 293.7 636.7)" />
<ellipse class="t" cx="294.6" cy="636.6" rx="19.6" ry="24" transform="rotate(8 294.6 636.6)" />
<path class="k" d="M303 575L295.5 608.7" />
<path class="k" d="M281.7 586L286 610.5" />
<path class="k" d="M263 603.7L276.7 617.5" />
<path class="k" d="M256.7 630L272.5 633.7" />
<path class="k" d="M258 657.5L272.8 647.5" />
<path class="k" d="M268 683.7L279 659" />
<path class="k" d="M286.7 697.5L288 662.7" />
<path class="k" d="M310.5 693.7L299 661" />
<path class="k" d="M331.7 672.5L310.5 653.7" />
<path class="k" d="M343.5 642.5L315.5 637.5" />
<path class="k" d="M340.5 610L313 623.7" />
<path class="t" d="M304.6 575.4L297.1 609.1" />
<path class="t" d="M269.6 684.1L280.6 659.4" />
<path class="t" d="M288.3 697.9L289.6 663.1" />
<path class="t" d="M345.1 642.9L317.1 637.9" />
<path class="k" d="M326.7 586 L306.7 613.7 M328.6 587.4 L308.6 615" />
<path class="hat" d="M327.6 586.7 L307.6 614.3" />
<ellipse class="f2" cx="300" cy="636" rx="15.2" ry="20.2" transform="rotate(8 300 636)" />
<path class="t" d="M273 640 q-3 4 0 9 M279 646 q-2 -5 -6 -6" />
<path class="fk" transform="translate(253 612.5) rotate(-70)" d="M-2.5 -1.5 h5 v3 h-5z"/>
<path class="fk" transform="translate(249.5 662.5) rotate(-100)" d="M-2.5 -1.5 h5 v3 h-5z"/>
<path class="fk" transform="translate(353 643.7) rotate(95)" d="M-2.5 -1.5 h5 v3 h-5z"/>
<path class="fk" transform="translate(336.7 582.5) rotate(40)" d="M-2.5 -1.5 h5 v3 h-5z"/>
<path class="fk" transform="translate(268 692) rotate(-140)" d="M-2.5 -1.5 h5 v3 h-5z"/>
<path class="fk" transform="translate(284 702) rotate(-160)" d="M-2.5 -1.5 h5 v3 h-5z"/>
<path class="fk" d="M341.3 510.4 L346.6 506.8 L351.4 510.4 L352.5 519.3 L349 521.6 L344.3 518.1 Z" />
<path class="k" d="M346.6 506.8 L347.4 515.6 L344.3 518.1 M347.4 515.6 L352.5 519.3 M343.6 509.6 L344.6 516.4 M349 509.2 L349.8 516.6" />
<path class="k3" d="M349.2 521.8 L351 528.5" />
<path class="k" d="M349.2 522.0C349.7 523.7 351.1 528.8 352.0 532.0C352.9 535.2 354.2 539.2 354.5 541.5C354.8 543.8 354.8 544.2 354.0 546.0C353.2 547.8 353.3 547.2 350.0 552.5C346.7 557.8 337.0 573.4 334.4 577.6" />
<path class="t" d="M350.8 521.6C351.3 523.3 352.7 528.3 353.6 531.6C354.5 534.9 355.8 538.9 356.1 541.4C356.4 543.9 356.4 544.6 355.6 546.6C354.9 548.6 354.9 548.0 351.6 553.3C348.3 558.6 338.6 574.2 336.0 578.4" />
<path class="fk" d="M391.40000000000003 649.9 q-1.6 2.4 0 4.8 l2.2 0.4 l0.2 -1.2 l4 0.6 q1.6 -1.4 0 -2.6 l-4 -0.4 l-0.2 -1.2 z" />
<path class="fd" d="M391.40000000000003 649.9 q-1.6 2.4 0 4.8 l2.2 0.4 l0 -5.6 z" />
<path class="fk" d="M407.6 712.4 q-1.6 2.4 0 4.8 l2.2 0.4 l0.2 -1.2 l4 0.6 q1.6 -1.4 0 -2.6 l-4 -0.4 l-0.2 -1.2 z" />
<path class="fd" d="M407.6 712.4 q-1.6 2.4 0 4.8 l2.2 0.4 l0 -5.6 z" />
<path class="nf" d="M456.3 630.7L447.6 636.0L446.0 648.0L445.0 676.5L470.0 757.0L476.4 764.6L617.3 697.0L618.8 678.0L593.6 583.5L584.0 578.0L579.3 571.5L569.4 567.1L559.5 571.5L563.0 578.0L468.0 633.0Z" />
<path class="f2n" d="M456.3 630.7L447.6 636.0L446.0 648.0L445.0 676.5L470.0 757.0L476.4 764.6L617.3 697.0L618.8 678.0L593.6 583.5L584.0 578.0L579.3 571.5L569.4 567.1L559.5 571.5" />
<path class="k" d="M579.3 583.5 L606 682.5 M584 581 L611 680.5 M589 582.5 L615.5 679.2" />
<path class="k" d="M593.6 583.5 L584 578 M575.5 589.5 L579.3 583.5" />
<path class="k" d="M497.6 757.6 L608.4 702.7 M477.6 767.4 L617.8 700.2 M498 757.4 L494 762 M608.4 702.7 L612 698.5" />
<path class="t" d="M478.6 770 L618.2 702.8" />
<path class="k" d="M606 682.5 L618.8 678 M606 682.5 L609 694.5 M611 680.5 L614 691" />
<path class="k" d="M476.4 764.6 L479.6 772.6 L519 753.6 L519.6 756.6 L560 737 L560.6 739.6 L600 720.4 L600.2 717.6 L618.4 708.6 L617.3 697" />
<path class="k" d="M450.5 645 L474.5 757 M455.5 670 L479 756.5 M446 648 L450.5 645" />
<path class="k" d="M451.1 660.2 L470.2 758.8 M461.2 660.2 L465.2 678.4 L462.2 680.4 L479.3 760.8" />
<path class="t" d="M461.6 686 Q464.5 683.5 467 685 L476.2 719.5 Q476.4 726 473.4 727.5" />
<ellipse class="t" cx="527" cy="672.5" rx="50" ry="67" transform="rotate(4 527 672.5)" />
<ellipse class="t" cx="527.4" cy="672.5" rx="52.6" ry="69.4" transform="rotate(4 527.4 672.5)" />
<path class="t" d="M480.0 650.0C481.8 646.0 486.0 632.6 491.0 626.0C496.0 619.4 503.5 613.9 510.0 610.5C516.5 607.1 523.4 605.8 530.0 605.5C536.6 605.2 544.4 606.9 549.6 608.8C554.8 610.7 557.7 612.9 561.3 617.1C564.9 621.3 568.4 626.9 571.0 634.0C573.6 641.1 575.7 652.5 576.8 660.0C577.9 667.5 578.4 673.1 577.5 679.0C576.6 684.9 572.6 692.8 571.6 695.5" />
<path class="k" d="M468.1 633.2 L562.9 577.8 M469.9 636.7 L566.4 580.5 M469 635 L564.6 579.2" />
<path class="fk" d="M448.5 635.5L454.2 631.9L463.4 633.3L468.4 638.3L470.5 642.6L464.9 646.1L457.8 644.7L450.2 640.8Z" /><path class="k3" d="M448.5 635.5 Q450.5 632.6 454.2 631.9 L463.4 633.3 Q467 634.6 468.8 638.6" /><path class="k" d="M450.2 640.8 L457.2 637 L468.4 638.3 M457.2 637 L457.8 644.7 M460.8 637.4 L464.9 646.1" />
<path class="fk" d="M559.7 571.3L565.4 567.7L574.6 569.1L579.6 574.1L581.7 578.4L576.1 581.9L569.0 580.5L561.4 576.6Z" /><path class="k3" d="M559.7 571.3 Q561.7 568.4 565.4 567.7 L574.6 569.1 Q578.2 570.4 580.0 574.4" /><path class="k" d="M561.4 576.6 L568.4 572.8 L579.6 574.1 M568.4 572.8 L569.0 580.5 M572.0 573.2 L576.1 581.9" />
<path class="k" d="M579.5 569 l2.5 -1.5 l0.6 1.5" />
<path class="fk" d="M488.3 616.5 L501.5 622.6 L502.3 626.1 L492.7 629.6 L486.5 625.2 Z" />
<path class="k" d="M486.5 625.2 L495.6 621.6 L501.5 622.6 M495.6 621.6 L492.7 629.6" />
<path class="fk" d="M476.6 613.6 Q477.8 611.2 479.2 613.2 L481 622.6 L477.8 624.8 Z" />
<path class="fk" d="M482.8 609.8 Q484.6 607.2 486.6 609.4 L489.4 618.6 L485.6 621.8 Z" />
<path class="k" d="M481 622.6 L482.6 617.2 L485.6 621.8" />
<path class="k3" d="M485.6 608.6 L498.5 619.8" />
<path class="k3" d="M476.6 613.6 Q477.8 611.2 479.2 613.2 M482.8 609.8 Q484.6 607.2 486.6 609.4" />
<path class="fk" d="M530.9 592.3 L544.1 598.4 L544.9 601.9 L535.3 605.4 L529.1 601.0 Z" />
<path class="k" d="M529.1 601.0 L538.2 597.4 L544.1 598.4 M538.2 597.4 L535.3 605.4" />
<path class="fk" d="M519.2 589.4 Q520.4 587.0 521.8 589.0 L523.6 598.4 L520.4 600.6 Z" />
<path class="fk" d="M525.4 585.6 Q527.2 583.0 529.2 585.2 L532.0 594.4 L528.2 597.6 Z" />
<path class="k" d="M523.6 598.4 L525.2 593.0 L528.2 597.6" />
<path class="k3" d="M528.2 584.4 L541.1 595.6" />
<path class="k3" d="M519.2 589.4 Q520.4 587.0 521.8 589.0 M525.4 585.6 Q527.2 583.0 529.2 585.2" />
<path class="fk" d="M557.3 594.5L574.9 587.9L579.3 605.5L566.1 612.1Z" /><path class="k3" d="M559.1 598.0L575.8 591.4" /><path class="k3" d="M560.8 601.5L576.7 594.9" /><path class="k3" d="M562.6 605.1L577.5 598.5" /><path class="k3" d="M564.3 608.6L578.4 602.0" />
<path class="fk" d="M579.3 671.4L596.8 664.8L603.4 686.7L583.7 695.5Z" /><path class="k3" d="M580.2 676.2L598.1 669.2" /><path class="k3" d="M581.1 681.0L599.4 673.6" /><path class="k3" d="M581.9 685.9L600.8 677.9" /><path class="k3" d="M582.8 690.7L602.1 682.3" />
<path class="fk" d="M451.2 650.0L468.7 643.7L470.0 665.0L457.5 670.0Z" /><path class="k3" d="M452.5 654.0L469.0 648.0" /><path class="k3" d="M453.7 658.0L469.2 652.2" /><path class="k3" d="M455.0 662.0L469.5 656.5" /><path class="k3" d="M456.2 666.0L469.7 660.7" />
<path class="fk" d="M473.7 734.0L487.5 729.0L495.0 751.5L480.0 756.5Z" /><path class="k3" d="M475.0 738.5L489.0 733.5" /><path class="k3" d="M476.2 743.0L490.5 738.0" /><path class="k3" d="M477.5 747.5L492.0 742.5" /><path class="k3" d="M478.7 752.0L493.5 747.0" />
<path class="f2" d="M575.4 620.8Q576.2 616.2 583.1 616.2Q587.7 616.6 589.2 621.5L596.9 651.5Q597.7 660.0 590.3 661.5Q584.6 661.5 582.6 655.4L574.9 626.2Q574.6 623.1 575.4 620.8Z" />
<path class="t" d="M577.1 621.2Q578.0 617.8 582.9 617.8Q586.3 618.5 587.5 622.2L595.1 651.7Q595.5 658.2 590.0 659.7Q585.7 659.7 584.2 654.8L576.6 626.2Q576.5 623.4 577.1 621.2Z" />
<path class="f2" d="M459.5 684 Q463.5 680 467.5 683.5 L477 722 Q477.5 729 473.5 730 Q470 729.5 468.5 725 L459.5 691 Q458.5 686.5 459.5 684Z" />
<ellipse class="fk" cx="482.7" cy="649" rx="1.9" ry="1.7" />
<ellipse class="fk" cx="478.7" cy="665.4" rx="1.9" ry="1.7" />
<ellipse class="fk" cx="549.6" cy="608.8" rx="1.9" ry="1.7" />
<ellipse class="fk" cx="561.3" cy="617.1" rx="1.9" ry="1.7" />
<ellipse class="fk" cx="577.5" cy="679" rx="1.9" ry="1.7" />
<ellipse class="fk" cx="571.6" cy="695.5" rx="1.9" ry="1.7" />
<ellipse class="fk" cx="493.7" cy="727.7" rx="1.9" ry="1.7" />
<ellipse class="fk" cx="505" cy="735.2" rx="1.9" ry="1.7" />
<path class="k3" d="M482.7 649 L470.6 642.8 M478.7 665.4 L471 662 M549.6 608.8 L555 596 M571.6 695.5 L584 700.5 M505 735.2 L497.5 757 M493.7 727.7 L488 723 M561.3 617.1 L576 592" />
<path class="fk" d="M482 773 l1 4.5 l5 2.5 l9.5 -4.6 l-0.6 -5.4" />
<path class="blk" d="M491 777 l5 -2.4 l0.4 2.2 l-5 2.4z" />
<path class="fk" d="M541 741.5 l1 4.5 l5 2.5 l9.5 -4.6 l-0.6 -5.4" />
<path class="blk" d="M550 745.5 l5 -2.4 l0.4 2.2 l-5 2.4z" />
<path class="fk" d="M596 708 l1 4.5 l5 2.5 l9.5 -4.6 l-0.6 -5.4" />
<path class="blk" d="M605 712 l5 -2.4 l0.4 2.2 l-5 2.4z" />
<path class="k" d="M500 748 l0.6 6.5 l14 -7 l-0.6 -5 M566 716.5 l0.6 6 l14 -7 l-0.6 -4.8" />
<path class="fk" d="M475.3 602.1 l3 -1 l3.4 2.4 l-2.6 1.2 l-0.6 2 l-2 -0.6z" />
<path class="fk" d="M492.4 664.9 l3 -1 l3.4 2.4 l-2.6 1.2 l-0.6 2 l-2 -0.6z" />
<path class="k" d="M445 676.5 l-2.6 1 M470.5 737 l-3 1 M452 700 l-3 1" />
<path class="blk" d="M466.8 609.0 l-3.6 0.8 q-2.4 3.6 0 7.6 l3.6 1 z" />
<ellipse class="fk" cx="469.3" cy="613.6" rx="4" ry="4.9" transform="rotate(-8 469.3 613.6)" />
<ellipse class="k" cx="469.5" cy="613.7" rx="1.5" ry="1.9" transform="rotate(-8 469.5 613.7)" />
<path class="blk" d="M509.9 584.4 l-3.6 0.8 q-2.4 3.6 0 7.6 l3.6 1 z" />
<ellipse class="fk" cx="512.4" cy="589" rx="4" ry="4.9" transform="rotate(-8 512.4 589)" />
<ellipse class="k" cx="512.6" cy="589.1" rx="1.5" ry="1.9" transform="rotate(-8 512.6 589.1)" />
<ellipse class="fk" cx="512.5" cy="776.0" rx="4.8" ry="2.2" />
<path class="fk" d="M509.7 777.6 l0.6 3.2 q2.2 1.2 4.4 0 l0.6 -3.2" />
<path class="k" d="M510.5 775.8000000000001 l4 0" />
<ellipse class="fk" cx="582" cy="735.3" rx="4.8" ry="2.2" />
<path class="fk" d="M579.2 736.9 l0.6 3.2 q2.2 1.2 4.4 0 l0.6 -3.2" />
<path class="k" d="M580 735.1 l4 0" />
<path class="fk" d="M625 613.6 q3 -3.6 7.6 -2 l2.6 -0.2 q2.6 1.6 1.4 4.4 l-2.8 1.8 q-3 1.6 -4 -1.6 q-2.6 0.6 -4.8 -2.4z" />
<ellipse class="k" cx="631.6" cy="614.4" rx="2.2" ry="2.6" />
<path class="fk" d="M659.5 593 l3.4 -0.6 q1.4 -2.4 4 -1.6 q3 0.8 2.8 3.8 q-0.6 3 -3.6 3.4 q-2.6 0 -3.2 -2.4 l-3.2 -0.6z" />
<ellipse class="k" cx="666.6" cy="595.6" rx="1.8" ry="2.6" />
<path class="f2" d="M636.1 682.6 L782.5 598.9 Q788.6 598.2 790.4 603.2 Q791.6 607 790.6 611.1 L644.2 695.3" />
<ellipse class="fk" cx="637.2" cy="689.8" rx="4.1" ry="6.2" transform="rotate(-25 637.2 689.8)" />
<ellipse class="k" cx="637.4" cy="690" rx="2.7" ry="4.6" transform="rotate(-25 637.4 690)" />
<path class="fk" d="M633 683.5 L629 682.6 Q625 684.6 625.6 689 Q626.6 692.6 630.4 692.8 L633.4 693.6" />
<path class="f2" d="M672.3 814.5 L822.1 728 Q824.6 723.5 822.4 720.2 Q820.5 718 817.5 718.8 L680.3 798.3" />
<ellipse class="fk" cx="668.3" cy="808.6" rx="4.1" ry="6.2" transform="rotate(-25 668.3 808.6)" />
<ellipse class="k" cx="668.5" cy="808.8" rx="2.7" ry="4.6" transform="rotate(-25 668.5 808.8)" />
<path class="fk" d="M664 802 L660 801 Q656 803 656.6 807.4 Q657.6 811 661.4 811.2 L664.4 812" />
<path class="k" d="M790.4 611.5 L817.6 718.6" />
<path class="k" d="M645.6 696 L674.6 797.2 M652 693 L680.3 797.4" />
<path class="fin" d="M651.4 693.2 L790 613.6" />
<path class="fin2" d="M681.6 796.4 L817 718" />
<path class="k2" d="M762 602 q1 -2.6 3.4 -0.6 l0.6 7.6" />
<path class="k" d="M655 720.5 l1.6 -1.6 l1.4 2.4 l1.4 -1.6 M666.4 765.6 l1.6 -1.6 l1.4 2.4 l1.4 -1.6" /></g>
<g class="wmg"><text class="wm1" transform="translate(73.5,777.6) rotate(-40.6) scale(1.2,1)" x="6.29 62.81 119.34 170.36 190.12 230.44 271.96 292.18 331.92 360.51 378.60 415.27 454.89 481.14 517.92 558.37 583.55 620.09 645.26 684.26 704.69 724.80 764.34 784.10 825.64" y="0" style="font-size:68.0px">www.polarisersatzteile.de</text><text class="wm2" transform="translate(73.5,777.6) rotate(-40.6) scale(1.2,1)" x="6.29 62.81 119.34 170.36 190.12 230.44 271.96 292.18 331.92 360.51 378.60 415.27 454.89 481.14 517.92 558.37 583.55 620.09 645.26 684.26 704.69 724.80 764.34 784.10 825.64" y="0" style="font-size:68.0px">www.polarisersatzteile.de</text></g>
<g class="ld">
<path d="M109 63L191 45"/>
<path d="M192.5 45L211 121"/>
<path d="M308 180.5L291.7 200.7"/>
<path d="M363 221L354 257"/>
<path d="M363 221L379 242"/>
<path d="M456 135.5L479 155"/>
<path d="M519.7 105L535.5 141"/>
<path d="M586 85L601.7 106"/>
<path d="M586 85L605 112.5"/>
<path d="M638.5 45L631 66"/>
<path d="M668.5 80L641 101"/>
<path d="M579.7 130L606 175"/>
<path d="M606 175L630.5 153"/>
<path d="M777.7 85L754 98"/>
<path d="M777.7 85L756.5 110"/>
<path d="M779 125L766.5 111"/>
<path d="M779 125L764 119.5"/>
<path d="M706.5 176L726.5 202.5"/>
<path d="M706.5 176L702.5 216"/>
<path d="M800.7 176L799.8 209.5"/>
<path d="M822 207.7L804.3 232.6"/>
<path d="M770.5 211.3L793.6 239.7"/>
<path d="M682.7 232.6L699.5 243.3"/>
<path d="M621 243L636 242"/>
<path d="M477 227L491 243.5"/>
<path d="M583 290.5L588.5 309.7"/>
<path d="M672 318L661 326"/>
<path d="M830 261L813.5 282"/>
<path d="M862.7 271L844 291"/>
<path d="M862.7 271L829 303"/>
<path d="M842.7 361L815 328.5"/>
<path d="M842.7 361L865 329.7"/>
<path d="M716.5 371L707.7 386"/>
<path d="M774 392L762.7 411"/>
<path d="M612 374L569 349.4"/>
<path d="M612 374L627.3 331"/>
<path d="M612 374L644.5 314.2"/>
<path d="M612 374L673.5 350.2"/>
<path d="M127.5 260L115.5 267"/>
<path d="M189.5 431.5L187 448"/>
<path d="M368 399.7L394 413.5"/>
<path d="M120 482L143.7 472.7"/>
<path d="M193 503L183.7 529.5"/>
<path d="M239 552L245.5 528"/>
<path d="M239 552L256.7 520.7"/>
<path d="M235.5 698.7L256.7 681"/>
<path d="M407.5 626L395 650"/>
<path d="M408 626L411.7 712.5"/>
<path d="M450 593.7L465 610"/>
<path d="M630 575L631 611"/>
<path d="M630 575L660 592.7"/>
<path d="M462.5 796.5L478 768.5"/>
<path d="M582.5 794L517.5 779"/>
<path d="M582.5 794L582.5 742.7"/>
<path d="M727.4 782.7L747.7 820"/>
</g><g class="lb">
<text x="204.5" y="45">17</text>
<text x="243" y="190">21</text>
<text x="321" y="178">20</text>
<text x="360" y="215">17</text>
<text x="443.5" y="132.5">32</text>
<text x="514.5" y="101">22</text>
<text x="581.5" y="83">5</text>
<text x="641" y="41">19</text>
<text x="679" y="80">30</text>
<text x="604" y="199">29</text>
<text x="786.5" y="82.5">18</text>
<text x="790" y="138">15</text>
<text x="706" y="174">17</text>
<text x="801" y="174">6</text>
<text x="829" y="204">31</text>
<text x="762" y="210">11</text>
<text x="673" y="232">13</text>
<text x="605.5" y="252.7">27</text>
<text x="501.5" y="262">29</text>
<text x="579" y="286.7">25</text>
<text x="682" y="317">28</text>
<text x="840.5" y="258.5">14</text>
<text x="871.5" y="268">17</text>
<text x="842" y="380">5</text>
<text x="700.7" y="400">26</text>
<text x="753.3" y="427.5">29</text>
<text x="611.5" y="394">29</text>
<text x="137.7" y="258.5">16</text>
<text x="190.5" y="425">23</text>
<text x="402" y="427.5">9</text>
<text x="108" y="492.7">12</text>
<text x="180" y="546.5">24</text>
<text x="235.5" y="575.7">29</text>
<text x="228" y="712.5">2</text>
<text x="411" y="619.5">7</text>
<text x="444.5" y="594.5">3</text>
<text x="626" y="570.5">10</text>
<text x="455" y="816.5">4</text>
<text x="586.5" y="811.5">8</text>
<text x="751" y="836.2">1</text>
</g>
<text class="cp" x="429.3" y="496.2" textLength="232" lengthAdjust="spacingAndGlyphs">© 2011 Polaris Sales Inc.</text>
</svg>
</body></html>
